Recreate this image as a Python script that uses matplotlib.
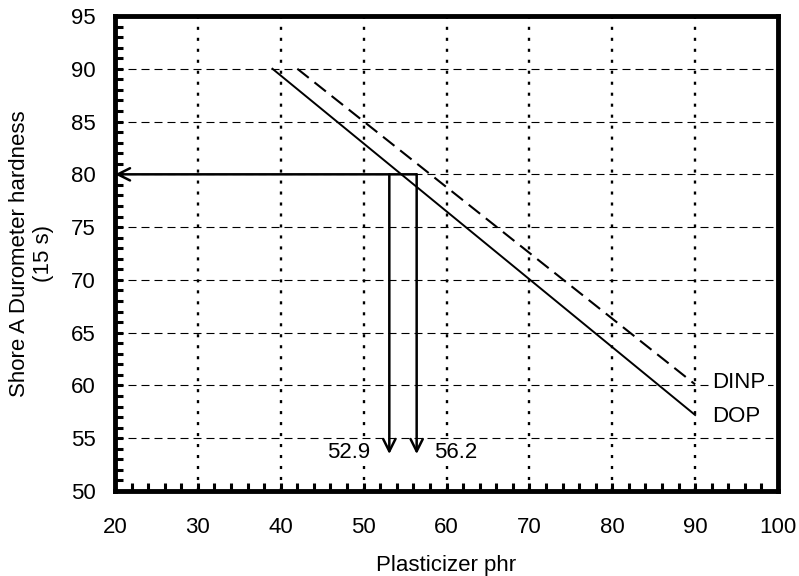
import matplotlib
matplotlib.use("Agg")
import matplotlib.pyplot as plt
from matplotlib.ticker import MultipleLocator

plt.rcParams['font.family'] = ['Liberation Sans', 'DejaVu Sans']

# Data
dop_x = [39, 90]
dop_y = [90, 57.2]
dinp_x = [42, 90]
dinp_y = [90, 60.1]
target_hardness = 80
arrow_x = [53.1, 56.4]
arrow_labels = ["52.9", "56.2"]
arrow_bottom = 53.5
series_labels = ["DINP", "DOP"]
series_label_y = [60.25, 57.1]

FS = 16

fig = plt.figure(figsize=(7.99, 5.76), dpi=100)
ax = fig.add_axes([115/799, 1-491/576, (778-115)/799, (491-16)/576])
ax.set_xlim(20, 100)
ax.set_ylim(50, 95)

# grid
for gx in range(30, 100, 10):
    ax.axvline(gx, color='black', linestyle=(0, (1.3, 3.35)), linewidth=1.7, zorder=1)
for gy in range(55, 95, 5):
    ax.axhline(gy, color='black', linestyle=(0, (7.2, 4.5)), linewidth=0.8, zorder=1)

ax.plot(dop_x, dop_y, color='black', linewidth=1.4, zorder=3)
ax.plot(dinp_x, dinp_y, color='black', linewidth=1.5, linestyle=(0, (7, 3.5)), zorder=3)

# horizontal line with left arrowhead
ax.annotate('', xy=(20, target_hardness), xytext=(max(arrow_x), target_hardness),
            arrowprops=dict(arrowstyle='->', color='black', lw=1.8,
                            mutation_scale=22, shrinkA=0, shrinkB=0), zorder=4)
for xv in arrow_x:
    ax.annotate('', xy=(xv, arrow_bottom), xytext=(xv, target_hardness),
                arrowprops=dict(arrowstyle='->', color='black', lw=1.8,
                                mutation_scale=22, shrinkA=0, shrinkB=0), zorder=4)

bbox = dict(facecolor='white', edgecolor='none', pad=2)
ax.text(arrow_x[0] - 2.3, 53.6, arrow_labels[0], ha='right', va='center',
        fontsize=FS, bbox=bbox, zorder=5)
ax.text(arrow_x[1] + 2.1, 53.6, arrow_labels[1], ha='left', va='center',
        fontsize=FS, bbox=bbox, zorder=5)
for lab, ly in zip(series_labels, series_label_y):
    ax.text(92.0, ly, lab, ha='left', va='center', fontsize=FS, bbox=bbox, zorder=5)

ax.xaxis.set_major_locator(MultipleLocator(10))
ax.xaxis.set_minor_locator(MultipleLocator(2))
ax.yaxis.set_major_locator(MultipleLocator(5))
ax.yaxis.set_minor_locator(MultipleLocator(1))
ax.tick_params(which='both', direction='in', width=2.2, length=5.5, top=False, right=False,
               labelsize=FS)
ax.tick_params(axis='x', which='major', pad=19)
ax.tick_params(axis='y', which='major', pad=14)
for s in ax.spines.values():
    s.set_linewidth(3.5)

ax.set_xlabel('Plasticizer phr', fontsize=FS, labelpad=12)
ax.set_ylabel('Shore A Durometer hardness\n(15 s)', fontsize=FS, labelpad=12)

fig.savefig('out.png', dpi=100)
